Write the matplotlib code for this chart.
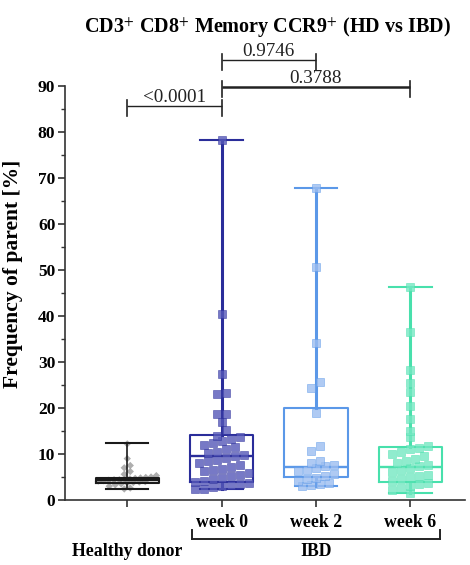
import numpy as np
import matplotlib
matplotlib.use("Agg")
import matplotlib.pyplot as plt
import matplotlib.transforms as mtransforms

plt.rcParams['font.family'] = ['Liberation Serif', 'DejaVu Serif']
plt.rcParams['mathtext.fontset'] = 'stix'

# ---------------- data ----------------
groups = ["Healthy donor", "week 0", "week 2", "week 6"]
tick_labels = ["", "week 0", "week 2", "week 6"]
colors = ["#1a1a1a", "#2a2d9a", "#5b98e8", "#48e0ac"]
point_colors = ["#9a9a9a", "#5558b8", "#9bbdf0", "#74e8c2"]

hd_vals = [12.2, 9.0, 7.5, 7.0, 6.2, 5.6, 5.3, 5.0, 4.9, 4.8, 4.7, 4.6, 4.5, 4.4,
           4.4, 4.3, 4.2, 4.1, 4.0, 3.9, 3.8, 3.7, 3.5, 3.3, 3.0, 2.6, 2.4]
wk0_vals = [78.2, 40.5, 27.5, 23.3, 23.0, 18.8, 18.6, 17.0, 15.2, 14.0, 13.6, 13.2,
            12.8, 12.4, 12.0, 11.6, 11.0, 10.5, 10.2, 9.8, 9.5, 9.2, 8.8, 8.5, 8.0,
            7.6, 7.2, 6.8, 6.5, 6.2, 5.8, 5.5, 5.2, 4.8, 4.5, 4.2, 4.0, 3.7, 3.5,
            3.2, 3.0, 2.8, 2.5, 2.3]
wk2_vals = [67.8, 50.7, 34.1, 25.7, 24.3, 18.9, 11.7, 10.7, 8.5, 8.0, 7.6, 7.3, 7.0,
            6.6, 6.2, 5.6, 5.2, 4.8, 4.5, 4.1, 3.8, 3.5, 3.2, 3.0]
wk6_vals = [46.4, 36.6, 28.3, 25.4, 23.5, 20.4, 17.6, 14.9, 13.8, 11.7, 11.4, 11.0,
            10.5, 10.0, 9.5, 9.0, 8.5, 8.0, 7.6, 7.3, 7.0, 6.5, 6.0, 5.5, 5.2, 5.0,
            4.5, 4.1, 3.8, 3.4, 3.0, 2.6, 2.1, 1.5]
values = [hd_vals, wk0_vals, wk2_vals, wk6_vals]

# box summaries (min, q1, median, q3, max)
box_min = [2.4, 2.3, 3.0, 1.5]
box_q1 = [3.7, 4.0, 4.9, 4.0]
box_med = [4.4, 9.6, 7.1, 7.2]
box_q3 = [4.8, 14.1, 20.0, 11.6]
box_max = [12.3, 78.2, 67.8, 46.4]

# significance comparisons (group a, group b, label)
comparisons = [(0, 1, "<0.0001"), (1, 3, "0.3788"), (1, 2, "0.9746")]
comp_levels = [85.7, 89.8, 95.7]
comp_lw = [1.0, 1.8, 1.0]

yticks = [0, 10, 20, 30, 40, 50, 60, 70, 80, 90]

# ---------------- figure ----------------
W, H = 470, 565
fig = plt.figure(figsize=(W / 100, H / 100), dpi=100)
ax = fig.add_axes([65 / W, 1 - 500 / H, 400 / W, 414 / H])
xlim = (-0.66, 3.58)
ax.set_xlim(*xlim)
ax.set_ylim(0, 90)

pos = np.arange(len(groups))
box_w = 0.67

# boxes
for i in range(len(groups)):
    c = colors[i]
    st = dict(whislo=box_min[i], q1=box_q1[i], med=box_med[i],
              q3=box_q3[i], whishi=box_max[i], fliers=[])
    ax.bxp([st], positions=[pos[i]], widths=box_w, showfliers=False,
           boxprops=dict(color=c, lw=1.5),
           medianprops=dict(color=c, lw=1.7),
           whiskerprops=dict(color=c, lw=2.2 if i > 0 else 1.2),
           capprops=dict(color=c, lw=1.5),
           capwidths=0.45, zorder=2)

# grid-like swarm layout (row binning)
px_per_x = 400 / (xlim[1] - xlim[0])
max_half = (box_w / 2) * 0.92

def grid_swarm(vals, center, step_px, row_h):
    vals = sorted(vals)
    rows = {}
    for v in vals:
        rows.setdefault(int(v // row_h), []).append(v)
    out = []
    for k in sorted(rows):
        r = rows[k]
        n = len(r)
        step = step_px / px_per_x
        if n > 1:
            step = min(step, 2 * max_half / (n - 1))
        offs = [(j - (n - 1) / 2) * step for j in range(n)]
        for v, o in zip(r, offs):
            out.append((center + o, v))
    return out

for i in range(len(groups)):
    if i == 0:
        pts = grid_swarm(values[i], pos[i], 6.0, 1.35)
    else:
        pts = grid_swarm(values[i], pos[i], 9.0, 2.0)
    xx = [p[0] for p in pts]
    yy = [p[1] for p in pts]
    if i == 0:
        ax.scatter(xx, yy, marker="D", s=14, color=point_colors[i], alpha=0.8,
                   edgecolors="none", zorder=1)
    else:
        ax.scatter(xx, yy, marker="s", s=26, color=point_colors[i], alpha=0.8,
                   edgecolors=colors[i], linewidths=0.4, zorder=3)

# significance brackets
for (a, b, lab), lev, lw in zip(comparisons, comp_levels, comp_lw):
    ax.plot([pos[a], pos[b]], [lev, lev], color="#222222", lw=lw, clip_on=False,
            solid_capstyle="butt")
    for xx in (pos[a], pos[b]):
        ax.plot([xx, xx], [lev - 2.2, lev + 1.2], color="#222222", lw=1.2,
                clip_on=False)
    ax.text((pos[a] + pos[b]) / 2, lev - 0.1, lab, ha="center", va="bottom",
            fontsize=13.8, color="#222222", clip_on=False)

# axes styling
for s in ["top", "right"]:
    ax.spines[s].set_visible(False)
ax.spines["left"].set_color("#333333")
ax.spines["bottom"].set_color("#333333")
ax.spines["left"].set_linewidth(1.2)
ax.spines["bottom"].set_linewidth(1.2)
ax.set_yticks(yticks)
ax.set_yticks(np.arange(5, 90, 10), minor=True)
ax.set_yticklabels([str(t) for t in yticks], fontweight="bold", fontsize=12.5)
ax.tick_params(axis="y", which="major", length=5, width=1.2, color="#333333", pad=2)
ax.tick_params(axis="y", which="minor", length=3, width=1.0, color="#333333")
ax.set_xticks(pos)
ax.set_xticklabels(tick_labels, fontweight="bold", fontsize=12.8)
ax.tick_params(axis="x", length=5, width=1.2, color="#333333", pad=5)
ax.set_ylabel("Frequency of parent [%]", fontweight="bold", fontsize=15.5, labelpad=2)
ax.yaxis.set_label_coords(-0.105, 0.545)

# group annotation under the x axis
trans = mtransforms.blended_transform_factory(ax.transData, ax.transAxes)
yb = -(539 - 500) / 414
yt = -(530 - 500) / 414
x0 = pos[1] - 0.31
x1 = pos[3] + 0.31
ax.plot([x0, x1], [yb, yb], color="#222222", lw=1.4, transform=trans, clip_on=False)
ax.plot([x0, x0], [yb, yt], color="#222222", lw=1.4, transform=trans, clip_on=False)
ax.plot([x1, x1], [yb, yt], color="#222222", lw=1.4, transform=trans, clip_on=False)
ylab = -(551 - 500) / 414
ax.text(pos[0], ylab, groups[0], transform=trans, ha="center", va="center",
        fontweight="bold", fontsize=12.8)
ax.text((pos[1] + pos[3]) / 2, ylab, "IBD", transform=trans, ha="center",
        va="center", fontweight="bold", fontsize=12.8)

fig.text(267 / W, 1 - 28 / H,
         r"CD3$^{+}$ CD8$^{+}$ Memory CCR9$^{+}$ (HD vs IBD)",
         ha="center", va="center", fontweight="bold", fontsize=14.5)

fig.savefig("out.png", dpi=100)
